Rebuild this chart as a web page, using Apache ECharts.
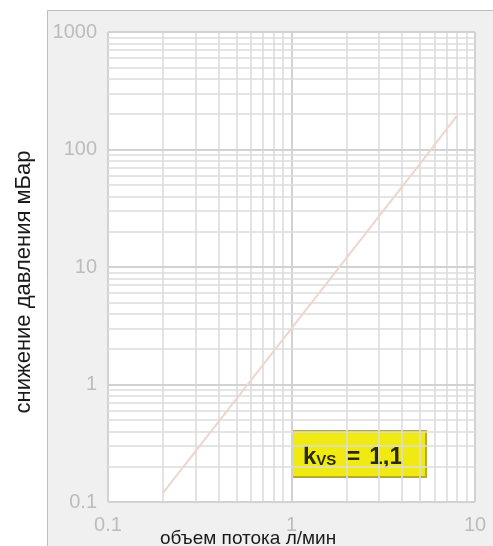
<!DOCTYPE html>
<html>
<head>
<meta charset="utf-8">
<script src="https://cdn.jsdelivr.net/npm/echarts@6/dist/echarts.min.js"></script>
<style>
html,body{margin:0;padding:0;background:#fff;}
#chart{width:493px;height:546px;}
</style>
</head>
<body>
<div id="chart"></div>
<script>
// Data
const flowValues = [0.2, 0.5, 1, 2, 5, 8];          // л/мин
const pressureValues = [0.12, 0.75, 3.0, 12, 75, 195]; // мБар
const xTickValues = [0.1, 1, 10];
const xTickLabels = ['0.1', '1', '10'];
const yTickValues = [0.1, 1, 10, 100, 1000];
const yTickLabels = ['0.1', '1', '10', '100', '1000'];
const xGridValues = [0.1,0.2,0.3,0.4,0.5,0.6,0.7,0.8,0.9,1,2,3,4,5,6,7,8,9,10];
const yGridValues = [0.1,0.2,0.3,0.4,0.5,0.6,0.7,0.8,0.9,1,2,3,4,5,6,7,8,9,10,20,30,40,50,60,70,80,90,100,200,300,400,500,600,700,800,900,1000];
const xTitle = 'объем потока л/мин';
const yTitle = 'снижение давления мБар';
const kvsMain = 'k';
const kvsSub = 'VS';
const kvsEq = '=';
const kvsValue = '1,1';

const chart = echarts.init(document.getElementById('chart'), null, {renderer: 'canvas'});

function lookup(vals, labels, v) {
  for (let i = 0; i < vals.length; i++) {
    if (Math.abs(Math.log10(vals[i]) - Math.log10(v)) < 1e-6) return labels[i];
  }
  return '';
}
function isMajor(v) {
  const l = Math.log10(v);
  return Math.abs(l - Math.round(l)) < 1e-6;
}

const gridLines = [];
xGridValues.forEach(v => gridLines.push({xAxis: v, lineStyle: {color: isMajor(v) ? '#d2d2d2' : '#dcdcdc', width: isMajor(v) ? 2 : 1.6, type: 'solid'}}));
yGridValues.forEach(v => gridLines.push({yAxis: v, lineStyle: {color: isMajor(v) ? '#d2d2d2' : '#dcdcdc', width: isMajor(v) ? 2 : 1.6, type: 'solid'}}));

const font = '"Liberation Sans", Arial, sans-serif';
const boxText = {fontWeight: 'bold', fill: '#2a2a08', fontFamily: font, lineHeight: 28, verticalAlign: 'bottom'};

chart.setOption({
  animation: false,
  backgroundColor: '#ffffff',
  grid: {left: 108, right: 18, top: 32, bottom: 44, show: true, backgroundColor: '#ffffff', borderWidth: 0},
  xAxis: {
    type: 'log', logBase: 10, min: 0.1, max: 10,
    axisLine: {show: false}, axisTick: {show: false}, splitLine: {show: false},
    axisLabel: {
      margin: 13, color: '#bcbcbc', fontSize: 20, fontFamily: font,
      formatter: v => lookup(xTickValues, xTickLabels, v)
    }
  },
  yAxis: {
    type: 'log', logBase: 10, min: 0.1, max: 1000,
    axisLine: {show: false}, axisTick: {show: false}, splitLine: {show: false},
    axisLabel: {
      margin: 11, color: '#bcbcbc', fontSize: 20, fontFamily: font,
      formatter: v => lookup(yTickValues, yTickLabels, v)
    }
  },
  graphic: [
    {type: 'rect', z: -10, silent: true, shape: {x: 47.5, y: 10.5, width: 460, height: 560},
     style: {fill: '#f0f0f0', stroke: '#bdbdbd', lineWidth: 1}},
    {type: 'text', z: 10, left: 160, top: 529, style: {text: xTitle, fill: '#1a1a1a', font: '19px ' + font}},
    {type: 'text', z: 10, x: 24, y: 282, rotation: Math.PI / 2,
     style: {text: yTitle, fill: '#1a1a1a', font: '22px ' + font, align: 'center', verticalAlign: 'middle'}},
    {type: 'group', z: 20, left: 291, top: 430, children: [
      {type: 'rect', shape: {x: 1, y: 1, width: 134, height: 46},
       style: {fill: '#f1ea12', stroke: '#b5ab2e', lineWidth: 2}},
      {type: 'text', x: 12, y: 25, style: {
        text: '{k|' + kvsMain + '}{s|' + kvsSub + '}{e|' + kvsEq + '}{v|' + kvsValue + '}',
        align: 'left', verticalAlign: 'middle',
        rich: {
          k: Object.assign({fontSize: 24}, boxText),
          s: Object.assign({fontSize: 15, padding: [0, 1, 1, 0]}, boxText),
          e: Object.assign({fontSize: 24, padding: [0, 0, 0, 9]}, boxText),
          v: Object.assign({fontSize: 24, padding: [0, 0, 0, 9]}, boxText)
        }
      }}
    ]}
  ],
  series: [
    {
      type: 'line', data: [], z: 1, silent: true,
      markLine: {silent: true, symbol: ['none', 'none'], label: {show: false}, animation: false, data: gridLines}
    },
    {
      type: 'line', z: 5, symbol: 'none', silent: true,
      data: flowValues.map((x, i) => [x, pressureValues[i]]),
      lineStyle: {color: '#eed6cc', width: 2}
    }
  ]
});
</script>
</body>
</html>
